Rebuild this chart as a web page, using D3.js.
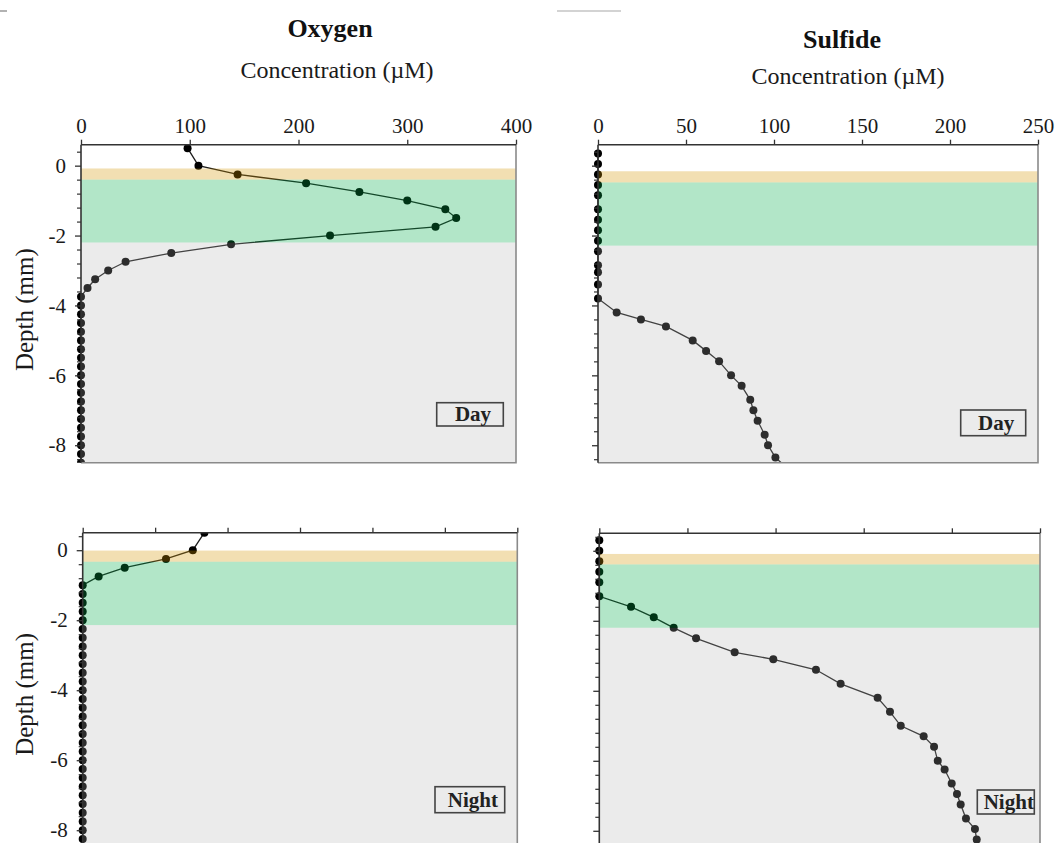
<!DOCTYPE html>
<html>
<head>
<meta charset="utf-8">
<script src="https://cdn.jsdelivr.net/npm/d3@7/dist/d3.min.js"></script>
<style>
  html, body { margin: 0; padding: 0; background: #fff; }
  svg { display: block; font-family: "Liberation Serif", "Times New Roman", serif; }
</style>
</head>
<body>
<svg id="chart" width="1057" height="843"></svg>
<script>
// ---- Profiles: depth (mm, positive = water above the mat) and concentration (µM) ----
const oxygenDayDepth = [0.5, 0, -0.25, -0.5, -0.75, -1, -1.25, -1.5, -1.75, -2, -2.25, -2.5, -2.75, -3,
  -3.25, -3.5, -3.75, -4, -4.25, -4.5, -4.75, -5, -5.25, -5.5, -5.75, -6, -6.25, -6.5, -6.75, -7,
  -7.25, -7.5, -7.75, -8, -8.25, -8.5];
const oxygenDay = [98, 108, 144, 207, 256, 300, 335, 345, 326, 229, 138, 83, 41, 25,
  13, 6, 0, 0, 0, 0, 0, 0, 0, 0, 0, 0, 0, 0, 0, 0,
  0, 0, 0, 0, 0, 0];

const sulfideDayDepth = [0.35, 0.05, -0.25, -0.55, -0.85, -1.25, -1.55, -1.85, -2.15, -2.45, -2.85,
  -3.05, -3.4, -3.8, -4.2, -4.4, -4.6, -5.0, -5.3, -5.6, -6.0, -6.3, -6.7, -7.0, -7.3, -7.7, -8.0,
  -8.35, -8.7];
const sulfideDay = [0, 0, 0, 0, 0, 0, 0, 0, 0, 0, 0,
  0, 0, 0, 10.6, 24.4, 38.6, 53.8, 61.4, 68.8, 75.6, 81.6, 86.5, 88.3, 90.7, 94.7, 96.6,
  100.8, 108.5];

const oxygenNightDepth = [0.5, 0, -0.25, -0.5, -0.75, -1, -1.25, -1.5, -1.75, -2, -2.25, -2.5, -2.75,
  -3, -3.25, -3.5, -3.75, -4, -4.25, -4.5, -4.75, -5, -5.25, -5.5, -5.75, -6, -6.25, -6.5, -6.75,
  -7, -7.25, -7.5, -7.75, -8, -8.25, -8.5];
const oxygenNight = [84, 76, 57.5, 29, 11, 0, 0, 0, 0, 0, 0, 0, 0,
  0, 0, 0, 0, 0, 0, 0, 0, 0, 0, 0, 0, 0, 0, 0, 0,
  0, 0, 0, 0, 0, 0, 0];

const sulfideNightDepth = [0.3, 0, -0.3, -0.6, -0.9, -1.3, -1.6, -1.9, -2.2, -2.5, -2.9, -3.1, -3.4,
  -3.8, -4.2, -4.6, -5.0, -5.3, -5.6, -6.0, -6.25, -6.65, -6.95, -7.25, -7.65, -7.95, -8.25];
const sulfideNight = [0, 0, 0, 0, 0, 0, 18, 30.9, 42.2, 54.9, 76.8, 98.7, 122.9,
  136.9, 157.9, 164.9, 171, 184, 189.9, 192, 195.9, 199.9, 202.9, 205, 208, 213.1, 214.1];

// ---- Axis ticks and mat layers (top / bottom of each layer, mm) ----
const oxygenTicks = [0, 100, 200, 300, 400];
const oxygenNightTicks = [0, 50, 100, 150, 200, 250, 300];
const sulfideTicks = [0, 50, 100, 150, 200, 250];
const depthTicks = [0, -2, -4, -6, -8];

const layersOxygenDay = [-0.08, -0.40, -2.20];
const layersSulfideDay = [-0.16, -0.48, -2.29];
const layersOxygenNight = [-0.01, -0.33, -2.14];
const layersSulfideNight = [-0.09, -0.39, -2.20];

const columnTitles = ["Oxygen", "Sulfide"];
const axisTitle = "Concentration (µM)";
const depthTitle = "Depth (mm)";
const periods = ["Day", "Night"];

// ---- Layout of the four panels ----
const panels = [
  { left: 81, right: 516, top: 144.7, bottom: 462.7, yDomain: [0.6, -8.5], xDomain: [0, 400],
    xTicks: oxygenTicks, tickLabels: true, depthLabels: true,
    depth: oxygenDayDepth, conc: oxygenDay, layers: layersOxygenDay,
    tag: periods[0], tagBox: [436.7, 402.7, 66.6, 23.3] },
  { left: 598, right: 1038, top: 144.7, bottom: 462.7, yDomain: [0.6, -8.5], xDomain: [0, 250],
    xTicks: sulfideTicks, tickLabels: true, depthLabels: false,
    depth: sulfideDayDepth, conc: sulfideDay, layers: layersSulfideDay,
    tag: periods[0], tagBox: [960.7, 410, 65, 25.7] },
  { left: 82.7, right: 517.3, top: 532.7, bottom: 847.7, yDomain: [0.5, -8.5], xDomain: [0, 300],
    xTicks: oxygenNightTicks, tickLabels: false, depthLabels: true,
    depth: oxygenNightDepth, conc: oxygenNight, layers: layersOxygenNight,
    tag: periods[1], tagBox: [435, 786.7, 69.7, 26] },
  { left: 599.3, right: 1040, top: 533.3, bottom: 848.3, yDomain: [0.5, -8.5], xDomain: [0, 250],
    xTicks: sulfideTicks, tickLabels: false, depthLabels: false,
    depth: sulfideNightDepth, conc: sulfideNight, layers: layersSulfideNight,
    tag: periods[1], tagBox: [977.3, 790, 57, 24] }
];

const svg = d3.select("#chart");

// faint rules along the very top edge
svg.append("line").attr("x1", 557).attr("x2", 621).attr("y1", 11).attr("y2", 11)
  .attr("stroke", "#c4c4c4").attr("stroke-width", 1.5);
svg.append("line").attr("x1", 0).attr("x2", 7).attr("y1", 11).attr("y2", 11)
  .attr("stroke", "#999").attr("stroke-width", 1.5);

// column headings
const headings = [
  { title: columnTitles[0], tx: 330, ty: 37, sx: 337, sy: 78 },
  { title: columnTitles[1], tx: 842, ty: 48, sx: 848, sy: 84 }
];
headings.forEach(h => {
  svg.append("text").attr("x", h.tx).attr("y", h.ty).attr("text-anchor", "middle")
    .attr("font-size", 26).attr("font-weight", "bold").attr("fill", "#111").text(h.title);
  svg.append("text").attr("x", h.sx).attr("y", h.sy).attr("text-anchor", "middle")
    .attr("font-size", 24).attr("fill", "#1a1a1a").text(axisTitle);
});

// layer fills are translucent so the profile markers beneath take on the layer tint
const layerFills = [
  { color: "rgb(211,148,0)", opacity: 0.302 },
  { color: "rgb(0,172,73)", opacity: 0.302 },
  { color: "rgb(176,176,176)", opacity: 0.255 }
];

panels.forEach((p, i) => {
  const x = d3.scaleLinear().domain(p.xDomain).range([p.left, p.right]);
  const y = d3.scaleLinear().domain(p.yDomain).range([p.top, p.bottom]);
  const g = svg.append("g");

  // profile (clipped vertically to the plot; markers may overhang the depth axis)
  const clipId = "clip" + i;
  svg.append("defs").append("clipPath").attr("id", clipId)
    .append("rect").attr("x", p.left - 10).attr("y", p.top)
    .attr("width", p.right - p.left + 10).attr("height", p.bottom - p.top);

  const pts = p.depth.map((d, k) => ({ depth: d, conc: p.conc[k] }));
  const prof = g.append("g").attr("clip-path", `url(#${clipId})`);
  prof.append("path").datum(pts)
    .attr("fill", "none").attr("stroke", "#1e1e1e").attr("stroke-width", 1.3)
    .attr("d", d3.line().x(d => x(d.conc)).y(d => y(d.depth)));
  prof.selectAll("circle").data(pts).join("circle")
    .attr("cx", d => x(d.conc)).attr("cy", d => y(d.depth)).attr("r", 4)
    .attr("fill", "#000");

  // mat layers: thin upper layer, green layer, and everything below
  const bounds = [
    [p.layers[0], p.layers[1]],
    [p.layers[1], p.layers[2]],
    [p.layers[2], p.yDomain[1]]
  ];
  bounds.forEach((b, k) => {
    g.append("rect").attr("x", p.left).attr("width", p.right - p.left)
      .attr("y", y(b[0])).attr("height", y(b[1]) - y(b[0]))
      .attr("fill", layerFills[k].color).attr("fill-opacity", layerFills[k].opacity);
  });

  // right and bottom frame
  g.append("path")
    .attr("d", `M${p.right},${p.top}V${p.bottom}H${p.left}`)
    .attr("fill", "none").attr("stroke", "#8a8a8a").attr("stroke-width", 1.6);

  // concentration axis along the top
  const xAxis = d3.axisTop(x).tickValues(p.xTicks).tickSize(5).tickPadding(7)
    .tickFormat(p.tickLabels ? d3.format("d") : () => "");
  const gx = g.append("g").attr("transform", `translate(0,${p.top})`).call(xAxis);
  gx.select(".domain").remove();
  gx.selectAll("line").attr("stroke", "#333").attr("stroke-width", 1.3);
  gx.selectAll("text").attr("font-size", 21).attr("fill", "#1a1a1a")
    .attr("font-family", "Liberation Serif, Times New Roman, serif");
  g.append("line").attr("x1", p.left).attr("x2", p.right).attr("y1", p.top).attr("y2", p.top)
    .attr("stroke", "#333").attr("stroke-width", 1.6);

  // depth axis: minor ticks every 0.4 mm, labelled ticks every 2 mm
  const minor = d3.range(0.4, p.yDomain[1] - 0.01, -0.4).filter(v => !depthTicks.some(t => Math.abs(t - v) < 1e-6));
  const gmin = g.append("g").attr("transform", `translate(${p.left},0)`)
    .call(d3.axisLeft(y).tickValues(minor).tickSize(4).tickFormat(() => ""));
  gmin.select(".domain").remove();
  gmin.selectAll("line").attr("stroke", "#333").attr("stroke-width", 1.2);

  const gy = g.append("g").attr("transform", `translate(${p.left},0)`)
    .call(d3.axisLeft(y).tickValues(depthTicks).tickSize(6).tickPadding(9)
      .tickFormat(p.depthLabels ? (d => d === 0 ? "0" : "-" + Math.abs(d)) : () => ""));
  gy.select(".domain").remove();
  gy.selectAll("line").attr("stroke", "#333").attr("stroke-width", 1.3);
  gy.selectAll("text").attr("font-size", 21).attr("fill", "#1a1a1a")
    .attr("font-family", "Liberation Serif, Times New Roman, serif");
  g.append("line").attr("x1", p.left).attr("x2", p.left).attr("y1", p.top).attr("y2", p.bottom)
    .attr("stroke", "#333").attr("stroke-width", 1.6);

  if (p.depthLabels) {
    const cy = y(-4.12);
    g.append("text").attr("transform", `translate(33,${cy}) rotate(-90)`)
      .attr("text-anchor", "middle").attr("font-size", 25).attr("fill", "#1a1a1a")
      .text(depthTitle);
  }

  // period tag
  const [bx, by, bw, bh] = p.tagBox;
  g.append("rect").attr("x", bx).attr("y", by).attr("width", bw).attr("height", bh)
    .attr("fill", "none").attr("stroke", "#444").attr("stroke-width", 1.6);
  g.append("text").attr("x", bx + bw / 2 + 3).attr("y", by + bh / 2 + 7)
    .attr("text-anchor", "middle").attr("font-size", 21).attr("font-weight", "bold")
    .attr("fill", "#222").text(p.tag);
});
</script>
</body>
</html>
